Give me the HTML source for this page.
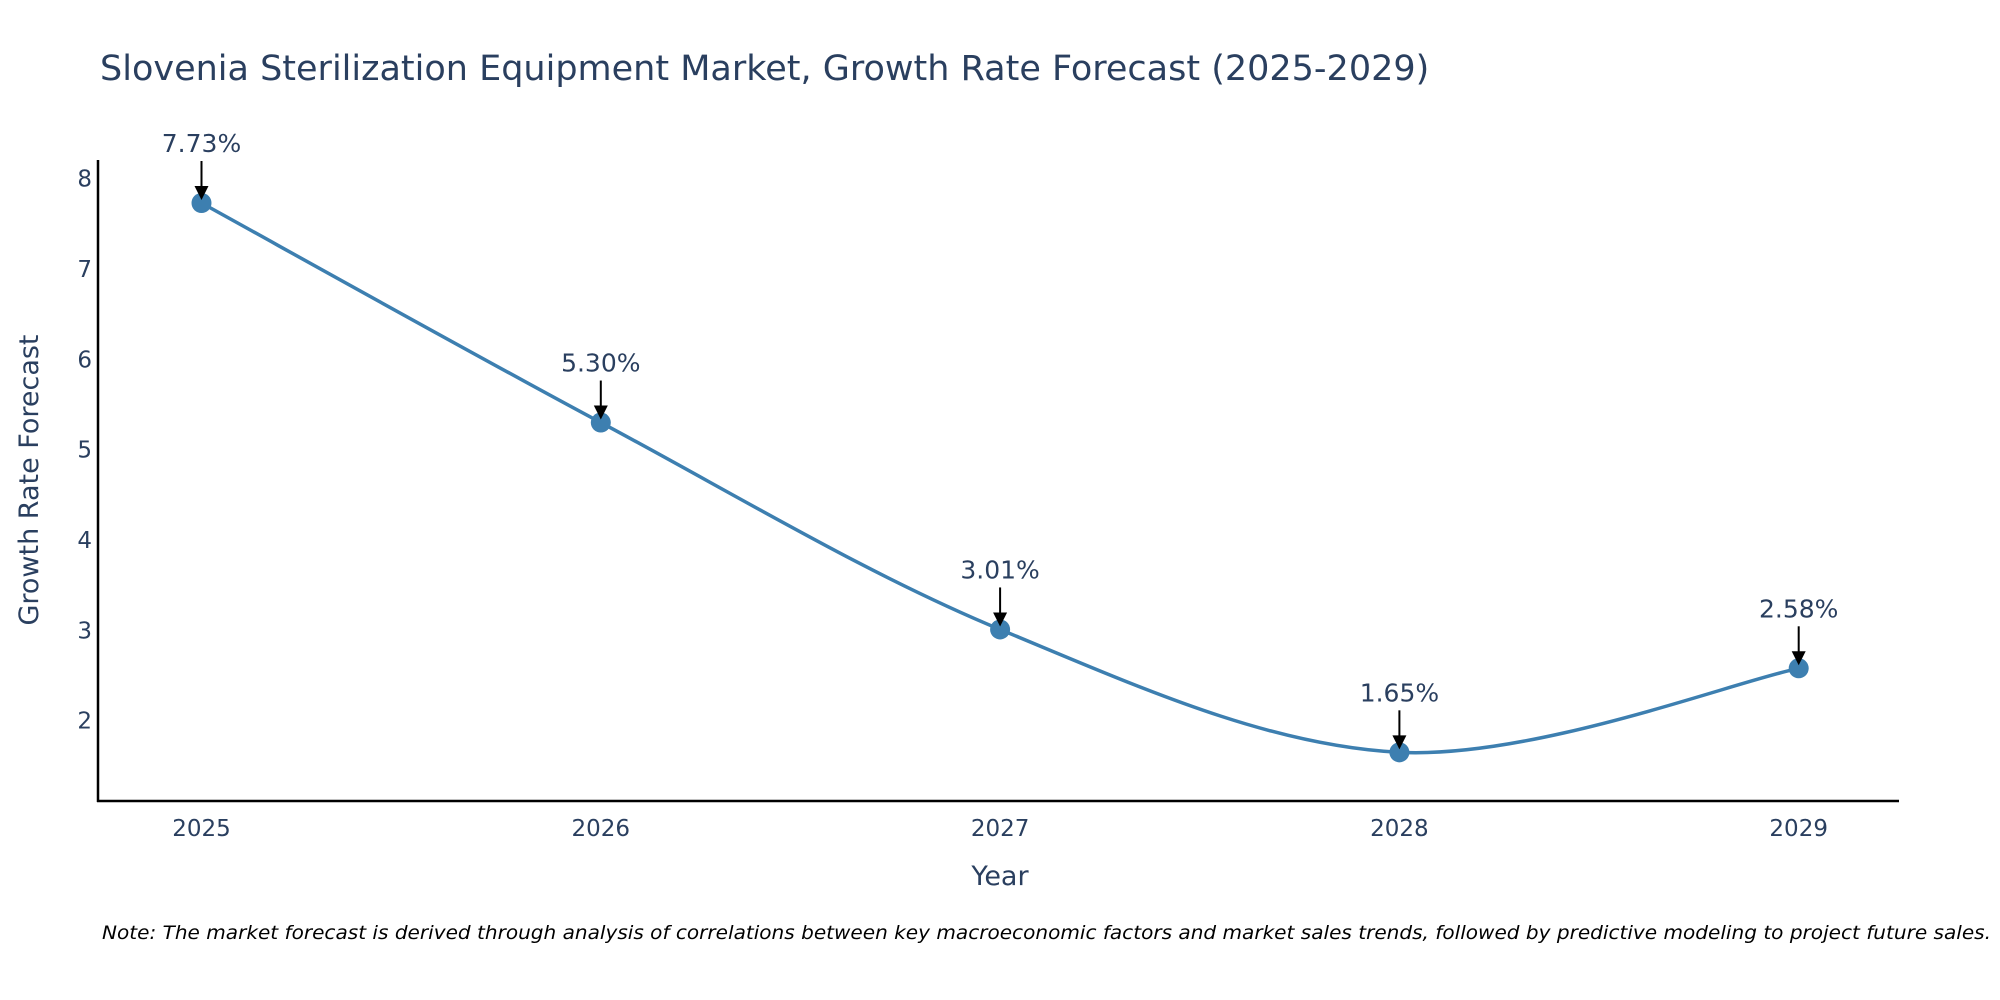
<!DOCTYPE html>
<html><head><meta charset="utf-8"><style>
body{margin:0;background:#fff;}
svg{display:block;font-family:"DejaVu Sans","Liberation Sans",sans-serif;}
</style></head><body>
<svg id="chart" width="2000" height="1000">
<text x="100" y="80" font-size="35" fill="#2a3f5f">Slovenia Sterilization Equipment Market, Growth Rate Forecast (2025-2029)</text>
<g id="yticks"></g>
<g id="xticks"></g>
<path id="line" fill="none" stroke="#3d7fb0" stroke-width="3.5"></path>
<g id="points"></g>
<g id="annots"></g>
<line x1="98" y1="160" x2="98" y2="802" stroke="#000" stroke-width="2.5"/>
<line x1="97" y1="801" x2="1899" y2="801" stroke="#000" stroke-width="2.5"/>
<text x="1000" y="885" font-size="27" fill="#2a3f5f" text-anchor="middle">Year</text>
<text transform="translate(38,480) rotate(-90)" font-size="27" fill="#2a3f5f" text-anchor="middle">Growth Rate Forecast</text>
<text x="1991" y="939" font-size="19" font-style="italic" fill="#000" text-anchor="end" textLength="1889" lengthAdjust="spacingAndGlyphs">Note: The market forecast is derived through analysis of correlations between key macroeconomic factors and market sales trends, followed by predictive modeling to project future sales.</text>
</svg>
<script>
const years = ["2025","2026","2027","2028","2029"];
const values = [7.73, 5.30, 3.01, 1.65, 2.58];
const labels = ["7.73%","5.30%","3.01%","1.65%","2.58%"];
const yTicks = [2,3,4,5,6,7,8];
const NS="http://www.w3.org/2000/svg";
function xs(i){return 201.5+i*399.3;}
function ys(v){return 178.6+(8-v)*90.35;}
function mk(tag,attrs,parent){const e=document.createElementNS(NS,tag);for(const k in attrs)e.setAttribute(k,attrs[k]);parent.appendChild(e);return e;}
const yt=document.getElementById('yticks');
yTicks.forEach(t=>{const e=mk('text',{x:92,y:ys(t)+8,'font-size':23,fill:'#2a3f5f','text-anchor':'end'},yt);e.textContent=t;

});
const xt=document.getElementById('xticks');
years.forEach((y,i)=>{const e=mk('text',{x:xs(i),y:836,'font-size':23,fill:'#2a3f5f','text-anchor':'middle'},xt);e.textContent=y;

});
const P=values.map((v,i)=>[xs(i),ys(v)]);
let d=`M${P[0][0]},${P[0][1]}`;
for(let i=0;i<P.length-1;i++){const p0=P[Math.max(0,i-1)],p1=P[i],p2=P[i+1],p3=P[Math.min(P.length-1,i+2)];const s=1/6;
d+=` C${p1[0]+(p2[0]-p0[0])*s},${p1[1]+(p2[1]-p0[1])*s} ${p2[0]-(p3[0]-p1[0])*s},${p2[1]-(p3[1]-p1[1])*s} ${p2[0]},${p2[1]}`;}
document.getElementById('line').setAttribute('d',d);
const pts=document.getElementById('points'),an=document.getElementById('annots');
P.forEach((p,i)=>{const c=mk('circle',{cx:p[0],cy:p[1],r:10,fill:'#3d7fb0'},pts);


const l=mk('line',{x1:p[0],y1:p[1]-42,x2:p[0],y2:p[1]-14,stroke:'#000','stroke-width':2},an);


const h=mk('polygon',{points:`${p[0]-7},${p[1]-17} ${p[0]+7},${p[1]-17} ${p[0]},${p[1]-3}`,fill:'#000'},an);


const t=mk('text',{x:p[0],y:p[1]-51,'font-size':25,fill:'#2a3f5f','text-anchor':'middle'},an);t.textContent=labels[i];

});
</script>
</body></html>
